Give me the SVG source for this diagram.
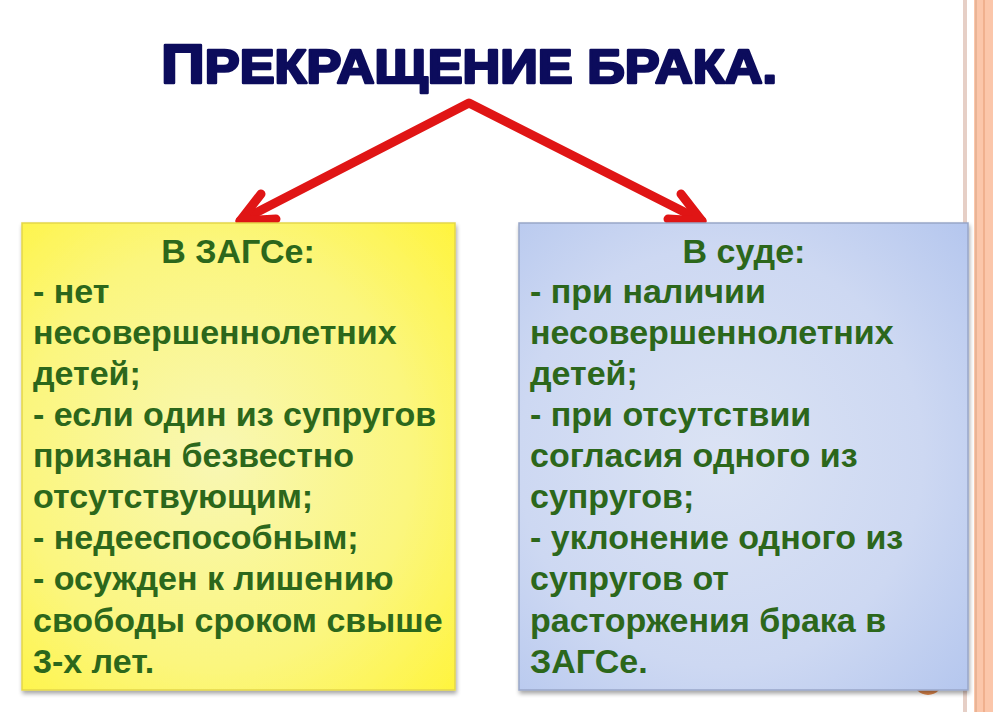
<svg xmlns="http://www.w3.org/2000/svg" width="993" height="712" viewBox="0 0 993 712">
<style>
.t{font-family:"Liberation Sans",Arial,sans-serif;font-weight:bold;font-size:34px;fill:#2c671b}
.h{text-anchor:middle}
.title{font-family:"Liberation Sans",Arial,sans-serif;font-weight:bold;fill:#0c0c5c;stroke:#0c0c5c;stroke-width:2.6px;stroke-linejoin:round}
.arr{fill:none;stroke:#e01515;stroke-width:9;stroke-linecap:round;stroke-linejoin:round}
</style>
<defs>
<radialGradient id="gy" cx="0.45" cy="0.5" r="0.75">
<stop offset="0" stop-color="#f8f7b4"/>
<stop offset="0.6" stop-color="#fbf67e"/>
<stop offset="1" stop-color="#fff43c"/>
</radialGradient>
<radialGradient id="gb" cx="0.45" cy="0.5" r="0.75">
<stop offset="0" stop-color="#dbe3f4"/>
<stop offset="0.6" stop-color="#cdd8f2"/>
<stop offset="1" stop-color="#b4c6ee"/>
</radialGradient>
<filter id="sh" x="-5%" y="-5%" width="110%" height="112%">
<feGaussianBlur in="SourceAlpha" stdDeviation="2"/>
<feOffset dx="1" dy="3" result="b"/>
<feComponentTransfer><feFuncA type="linear" slope="0.35"/></feComponentTransfer>
<feMerge><feMergeNode/><feMergeNode in="SourceGraphic"/></feMerge>
</filter>
</defs>
<rect width="993" height="712" fill="#ffffff"/>
<g id="decor">
<rect x="963" y="0" width="4" height="712" fill="#e6cfc6"/>
<rect x="974" y="0" width="19" height="712" fill="#fbc6aa"/>
<rect x="975" y="0" width="2" height="712" fill="#e9b496"/>
<rect x="983" y="0" width="2" height="712" fill="#f0b08e"/>
<circle cx="928" cy="680" r="15" fill="#e0884c"/>
</g>
<g id="title">
<text class="title" x="161" y="83" textLength="616" lengthAdjust="spacingAndGlyphs"><tspan font-size="56">П</tspan><tspan font-size="48">РЕКРАЩЕНИЕ БРАКА.</tspan></text>
</g>
<g id="connectors">
<polyline class="arr" points="240,221 469,103 702,221"/>
<polyline class="arr" points="261,194 240,221 276,219"/>
<polyline class="arr" points="681,194 702,221 668,219"/>
</g>
<g id="zags">
<rect x="22" y="223" width="433" height="467" fill="url(#gy)" stroke="#e3d64a" stroke-width="1.5" filter="url(#sh)"/>
<text class="t h" x="238" y="263">В ЗАГСе:</text>
<text class="t" x="33" y="303">- нет</text>
<text class="t" x="33" y="344">несовершеннолетних</text>
<text class="t" x="33" y="385">детей;</text>
<text class="t" x="33" y="426">- если один из супругов</text>
<text class="t" x="33" y="467">признан безвестно</text>
<text class="t" x="33" y="508">отсутствующим;</text>
<text class="t" x="33" y="549">- недееспособным;</text>
<text class="t" x="33" y="590">- осужден к лишению</text>
<text class="t" x="33" y="632">свободы сроком свыше</text>
<text class="t" x="33" y="673">3-х лет.</text>
</g>
<g id="sud">
<rect x="519" y="223" width="449" height="467" fill="url(#gb)" stroke="#98a6c8" stroke-width="1.5" filter="url(#sh)"/>
<text class="t h" x="744" y="263">В суде:</text>
<text class="t" x="530" y="303">- при наличии</text>
<text class="t" x="530" y="344">несовершеннолетних</text>
<text class="t" x="530" y="385">детей;</text>
<text class="t" x="530" y="426">- при отсутствии</text>
<text class="t" x="530" y="467">согласия одного из</text>
<text class="t" x="530" y="508">супругов;</text>
<text class="t" x="530" y="549">- уклонение одного из</text>
<text class="t" x="530" y="590">супругов от</text>
<text class="t" x="530" y="632">расторжения брака в</text>
<text class="t" x="530" y="673">ЗАГСе.</text>
</g>
</svg>
